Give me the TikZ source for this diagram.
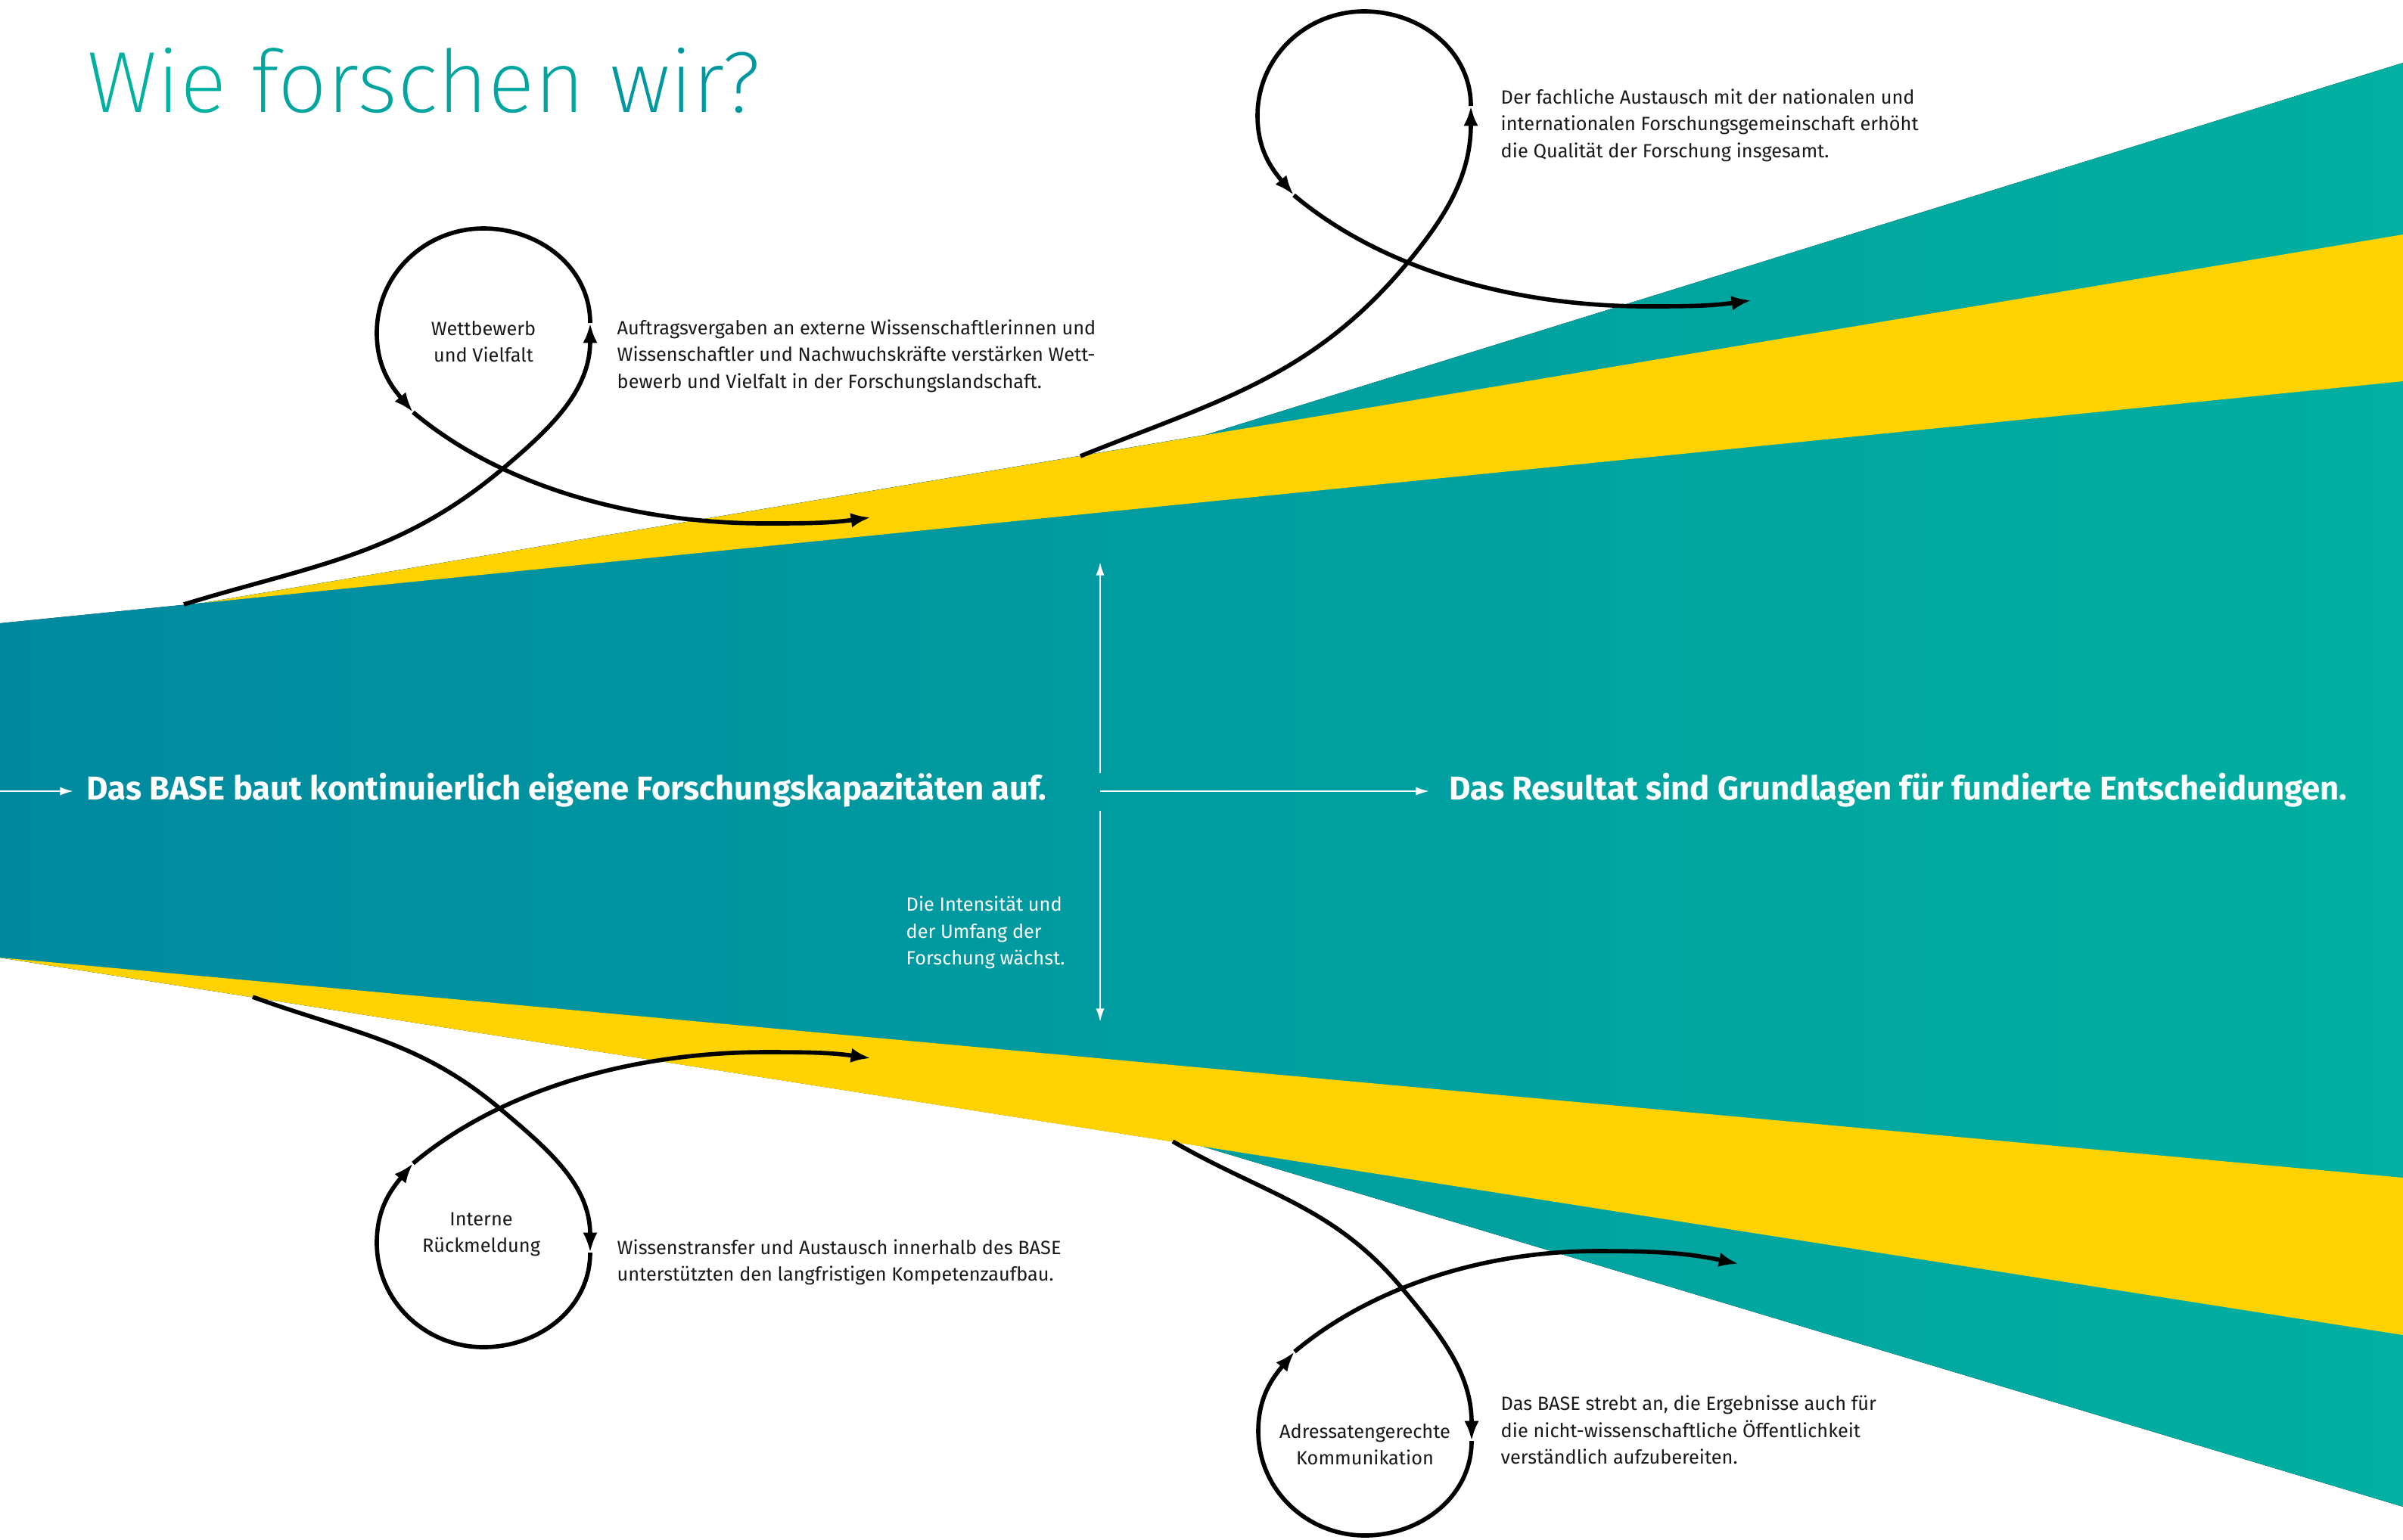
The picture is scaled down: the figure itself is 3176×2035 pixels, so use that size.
\documentclass[tikz,border=0pt]{standalone}
\usepackage{fontspec}
\setmainfont{Fira Sans}
\IfFontExistsTF{Fira Sans ExtraLight}
  {\newfontfamily\titlefont{Fira Sans ExtraLight}}
  {\IfFontExistsTF{Fira Sans Light}
    {\newfontfamily\titlefont{Fira Sans Light}}
    {\newfontfamily\titlefont{Fira Sans}}}
\usetikzlibrary{arrows.meta}

\definecolor{basepetrol}{HTML}{008AA0}
\definecolor{basegreen}{HTML}{00B0A0}
\definecolor{baseyellow}{HTML}{FFD200}

\begin{document}
\begin{tikzpicture}[x=0.01cm,y=0.01cm,
    curve/.style={line width=1.6pt,-{Latex[length=7.5pt,width=5.5pt]}},
    whitearrow/.style={white,line width=0.7pt,-{Latex[length=5pt,width=3.2pt]}},
    desc/.style={font=\fontsize{7.2}{9.96}\selectfont,align=left,anchor=base west,inner sep=0pt,text=black!90},
    looptext/.style={font=\fontsize{7.2}{9.96}\selectfont,align=center,inner sep=0pt,text=black!90},
    claim/.style={white,font=\bfseries\fontsize{12.4}{15}\selectfont,anchor=base west,inner sep=0pt}]

  \useasboundingbox (0,0) rectangle (3176,-2035);

  % the widening fan
  \fill[left color=basepetrol,right color=basegreen]
    (0,-824) -- (269,-797) -- (1593,-575) -- (3176,-83) -- (3176,-1992)
    -- (1587,-1515) -- (0,-1266) -- cycle;
  \fill[baseyellow] (269,-797) -- (3176,-310) -- (3176,-504) -- cycle;
  \fill[baseyellow] (0,-1266) -- (3176,-1557) -- (3176,-1765) -- cycle;

  \node[anchor=base west,inner sep=0pt,font=\titlefont\fontsize{32.6}{36}\selectfont] (title) at (115,-148)
    {\textcolor{basegreen}{Wie} \textcolor{basegreen!70!basepetrol}{forschen} \textcolor{basegreen!35!basepetrol}{wir?}};

  \coordinate (entry) at (0,-1046);
  \coordinate (hub) at (1454,-1046);
  \coordinate (up) at (1454,-743);
  \coordinate (down) at (1454,-1351);
  \node[claim,inner xsep=0.17cm] (source) at (97,-1057) {Das BASE baut kontinuierlich eigene Forschungskapazitäten auf.};
  \node[claim,inner xsep=0.26cm] (result) at (1889,-1057) {Das Resultat sind Grundlagen für fundierte Entscheidungen.};
  \node[desc,text=white] (growth) at (1197,-1275) {Die Intensität und\\der Umfang der\\Forschung wächst.};
  \draw[whitearrow] (entry) -- (entry -| source.west);
  \draw[whitearrow] (hub) -- (hub -| result.west);
  \draw[whitearrow,shorten <=0.24cm] (hub) -- (up);
  \draw[whitearrow,shorten <=0.26cm] (hub) -- (down);

  \node[looptext] (wettbewerb) at (639,-452) {Wettbewerb\\und Vielfalt};
  \node[looptext] (rueckmeldung) at (636,-1632) {Interne\\Rückmeldung};
  \node[looptext] (adressaten) at (1804,-1910) {Adressatengerechte\\Kommunikation};

  % base anchor sits on the last line
  \node[desc] (vergabe) at (815,-513) {Auftragsvergaben an externe Wissenschaftlerinnen und\\Wissenschaftler und Nachwuchskräfte verstärken Wett-\\bewerb und Vielfalt in der Forschungslandschaft.};
  \node[desc] (austausch) at (1983,-208) {Der fachliche Austausch mit der nationalen und\\internationalen Forschungsgemeinschaft erhöht\\die Qualität der Forschung insgesamt.};
  \node[desc] (transfer) at (815,-1693) {Wissenstransfer und Austausch innerhalb des BASE\\unterstützten den langfristigen Kompetenzaufbau.};
  \node[desc] (verstaendlich) at (1983,-1935) {Das BASE strebt an, die Ergebnisse auch für\\die nicht-wissenschaftliche Öffentlichkeit\\verständlich aufzubereiten.};

  % loop centres and where the loops leave the fan
  \coordinate (o1) at (639,-440);   \coordinate (s1) at (243,-799);
  \coordinate (o2) at (1803,-153);  \coordinate (s2) at (1428,-603);
  \coordinate (o3) at (639,-1643);  \coordinate (s3) at (334,-1318);
  \coordinate (o4) at (1804,-1892); \coordinate (s4) at (1550,-1509);

  \begin{scope}[shift={(o1)}]
    \draw[curve] (s1) to[out=17,in=220] (25,-180) to[out=40,in=-90] (141,13);
    \draw[curve] (141,13) to[out=90,in=0] (0,138) to[out=180,in=90] (-141,0) to[out=-90,in=130] (-93,-105);
    \draw[curve] (-93,-105) to[out=-40,in=180,looseness=0.85] (372,-252) to[out=0,in=188] (512,-244);
  \end{scope}
  \begin{scope}[shift={(o2)}]
    \draw[curve] (s2) to[out=22,in=230] (55,-197) to[out=50,in=-90] (141,13);
    \draw[curve] (141,13) to[out=90,in=0] (0,138) to[out=180,in=90] (-141,0) to[out=-90,in=130] (-93,-105);
    \draw[curve] (-93,-105) to[out=-40,in=180,looseness=0.85] (372,-252) to[out=0,in=188] (512,-244);
  \end{scope}
  \begin{scope}[shift={(o3)}]
    \draw[curve] (s3) to[out=-20,in=140] (21,178) to[out=-40,in=90] (141,-13);
    \draw[curve] (141,-13) to[out=-90,in=0] (0,-138) to[out=180,in=-90] (-141,0) to[out=90,in=-130] (-93,105);
    \draw[curve] (-93,105) to[out=40,in=180,looseness=0.85] (372,252) to[out=0,in=172] (512,244);
  \end{scope}
  \begin{scope}[shift={(o4)}]
    \draw[curve] (s4) to[out=-30,in=130] (48,190) to[out=-50,in=90] (141,-13);
    \draw[curve] (141,-13) to[out=-90,in=0] (0,-138) to[out=180,in=-90] (-141,0) to[out=90,in=-130] (-93,105);
    \draw[curve] (-93,105) to[out=40,in=180,looseness=0.85] (306,238) to[out=0,in=168] (494,221);
  \end{scope}
\end{tikzpicture}
\end{document}
